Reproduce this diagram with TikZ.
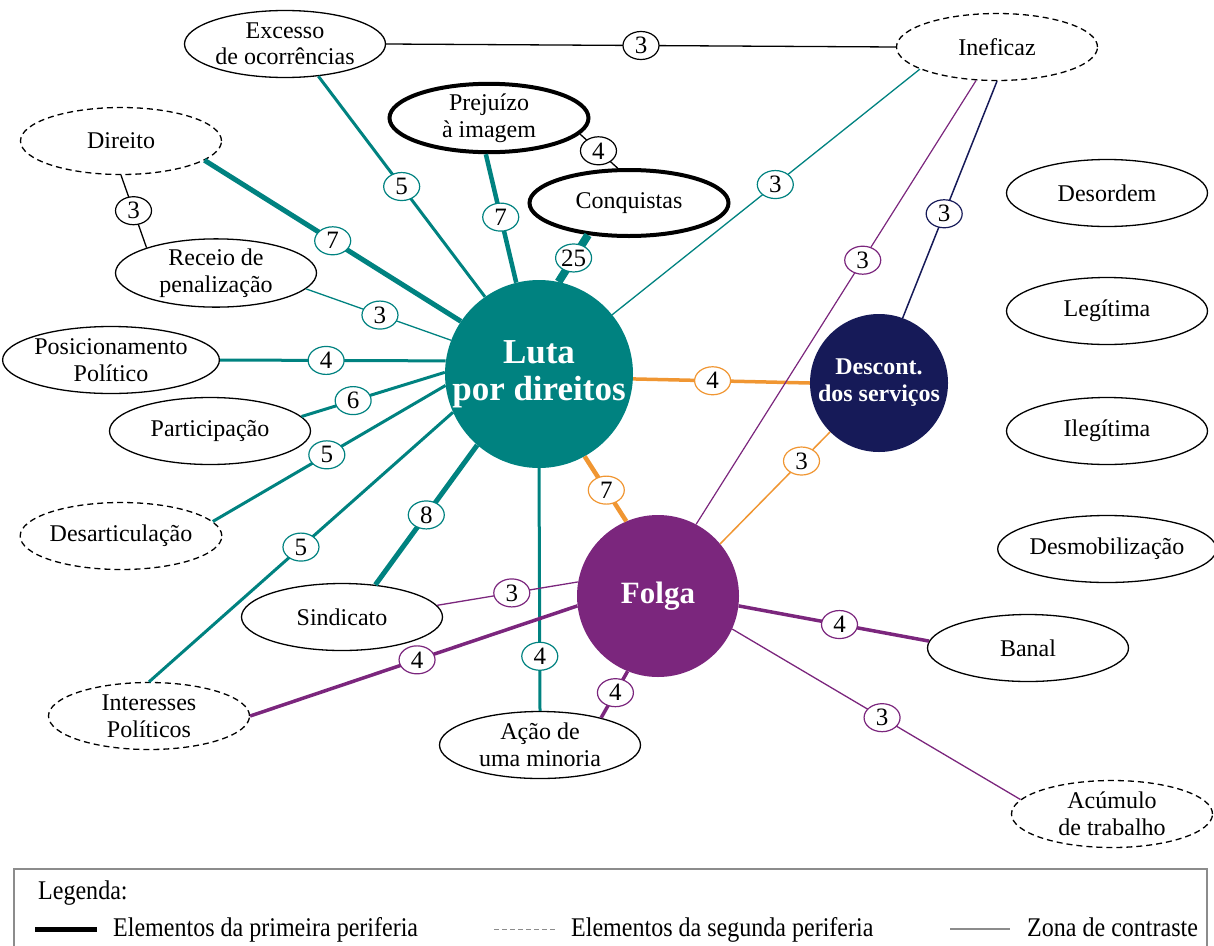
\documentclass[tikz,border=0pt]{standalone}
\usepackage{fontspec}
\setmainfont{Liberation Serif}
\usetikzlibrary{shapes.geometric}
\definecolor{tealE}{RGB}{0,130,128}
\definecolor{navyE}{RGB}{22,26,88}
\definecolor{purpleE}{RGB}{123,38,125}
\definecolor{orangeE}{RGB}{240,150,50}
\definecolor{legGray}{RGB}{140,140,140}
\newcommand{\legscale}[1]{\scalebox{0.89}[1]{#1}}
\tikzset{
  ell/.style={ellipse, draw=black, fill=white, line width=1.3pt, minimum width=201pt, minimum height=67pt, inner sep=0pt, align=center, font=\fontsize{24}{26.5}\selectfont},
  ellfirst/.style={ell, line width=4pt, minimum width=199pt, minimum height=66pt},
  elldash/.style={ell, dash pattern=on 6pt off 4pt},
  lab/.style={ellipse, draw, fill=white, solid, line width=1.2pt, minimum width=36pt, minimum height=28pt, inner sep=0pt, text=black, font=\fontsize{25}{25}\selectfont},
  bigc/.style={circle, inner sep=0pt, align=center, text=white},
  legtext/.style={anchor=base west, inner sep=0pt, font=\fontsize{27}{29}\selectfont}
}
\begin{document}
\begin{tikzpicture}[x=1pt,y=-1pt]
\useasboundingbox (0,0) rectangle (1214,945);
% central circles
\node[bigc, fill=tealE, minimum size=188pt, font=\fontsize{35}{37}\selectfont\bfseries] (luta) at (539,374) {Luta\\por direitos};
\node[bigc, fill=navyE, minimum size=138pt, font=\fontsize{24}{27}\selectfont\bfseries] (descont) at (879,383) {Descont.\\dos serviços};
\node[bigc, fill=purpleE, minimum size=162pt, font=\fontsize{31}{33}\selectfont\bfseries] (folga) at (658,596) {Folga};
% ellipses
\node[ell] (excesso) at (285,44) {Excesso\\de ocorrências};
\node[ellfirst] (prejuizo) at (489,118) {Prejuízo\\à imagem};
\node[ellfirst] (conquistas) at (629,203) {Conquistas};
\node[elldash] (direito) at (121,141) {Direito};
\node[ell] (receio) at (216,273) {Receio de\\penalização};
\node[elldash] (ineficaz) at (997,47) {Ineficaz};
\node[ell] (desordem) at (1107,193) {Desordem};
\node[ell] (legitima) at (1107,311) {Legítima};
\node[ell] (ilegitima) at (1107,431) {Ilegítima};
\node[ell] (desmob) at (1107,549) {Desmobilização};
\node[ell] (posic) at (111,360) {Posicionamento\\Político};
\node[ell] (particip) at (210,431) {Participação};
\node[elldash] (desart) at (121,536) {Desarticulação};
\node[ell] (sindicato) at (342,617) {Sindicato};
\node[elldash] (interesses) at (149,716) {Interesses\\Políticos};
\node[ell] (acao) at (540,745) {Ação de\\uma minoria};
\node[ell] (banal) at (1028,648) {Banal};
\node[elldash] (acumulo) at (1112,814) {Acúmulo\\de trabalho};
% teal edges
\draw[tealE, line width=3pt] (excesso.-44) -- node[lab,pos=.5]{5} (luta.125);
\draw[tealE, line width=5pt] (direito.-13) -- node[lab,pos=.5]{7} (luta.146);
\draw[tealE, line width=4.5pt] (prejuizo.-95) -- node[lab,pos=.49]{7} (luta.104);
\draw[tealE, line width=8pt] (conquistas.218) -- node[lab,pos=.49]{25} (luta.78);
\draw[tealE, line width=1.3pt] (ineficaz.196) -- node[lab,pos=.47]{3} (luta.39);
\draw[tealE, line width=1.3pt] (receio.-10.6) -- node[lab,pos=.51]{3} (luta.159);
\draw[tealE, line width=3pt] (posic.0) -- node[lab,pos=.47]{4} (luta.172);
\draw[tealE, line width=3pt] (particip.9.9) -- node[lab,pos=.36]{6} (luta.179);
\draw[tealE, line width=3pt] (desart.9.9) -- node[lab,pos=.49]{5} (luta.187);
\draw[tealE, line width=3pt] (interesses.90) -- node[lab,pos=.5]{5} (luta.204);
\draw[tealE, line width=5pt] (sindicato.44) -- node[lab,pos=.5]{8} (luta.229);
\draw[tealE, line width=3pt] (acao.90) -- node[lab,pos=.225]{4} (luta.270);
% orange edges
\draw[orangeE, line width=3.5pt] (luta.-3) -- node[lab,pos=.45]{4} (descont.180);
\draw[orangeE, line width=4.5pt] (luta.-61) -- node[lab,pos=.52]{7} (folga.113.5);
\draw[orangeE, line width=1.5pt] (descont.225.6) -- node[lab,pos=.26]{3} (folga.40);
% navy edge
\draw[navyE, line width=1.5pt] (ineficaz.-90) -- node[lab,pos=.56]{3} (descont.70.8);
% purple edges
\draw[purpleE, line width=1.2pt] (ineficaz.238) -- node[lab,pos=.405]{3} (folga.62.2);
\draw[purpleE, line width=1.3pt] (sindicato.7) -- node[lab,pos=.53]{3} (folga.170);
\draw[purpleE, line width=3.5pt] (interesses.0) -- node[lab,pos=.51]{4} (folga.187.8);
\draw[purpleE, line width=3.5pt] (acao.24) -- node[lab,pos=.54]{4} (folga.248.5);
\draw[purpleE, line width=3.5pt] (folga.-7.8) -- node[lab,pos=.53]{4} (banal.176.5);
\draw[purpleE, line width=1.3pt] (folga.-24.9) -- node[lab,pos=.52]{3} (acumulo.171);
% black edges
\draw[black, line width=1.3pt] (excesso.0) -- node[lab,pos=.5]{3} (ineficaz.180);
\draw[black, line width=1.3pt] (direito.-90) -- node[lab,pos=.49]{3} (receio.160.6);
\draw[black, line width=1.3pt] (prejuizo.-10.9) -- node[lab,pos=.49]{4} (conquistas.108.4);
% legend
\draw[legGray, line width=2.5pt] (14,869) rectangle (1207,990);
\node[legtext] (legtitle) at (38,899) {\legscale{Legenda:}};
\coordinate (l1a) at (35,929); \coordinate (l1b) at (97,929);
\draw[black, line width=5pt] (l1a) -- (l1b);
\node[legtext] (leg1) at (113,936) {\legscale{Elementos da primeira periferia}};
\coordinate (l2a) at (494,929); \coordinate (l2b) at (556,929);
\draw[legGray, line width=1pt, dash pattern=on 5pt off 3pt] (l2a) -- (l2b);
\node[legtext] (leg2) at (571,936) {\legscale{Elementos da segunda periferia}};
\coordinate (l3a) at (950,929); \coordinate (l3b) at (1010,929);
\draw[legGray, line width=1.5pt] (l3a) -- (l3b);
\node[legtext] (leg3) at (1027,936) {\legscale{Zona de contraste}};
\end{tikzpicture}
\end{document}
